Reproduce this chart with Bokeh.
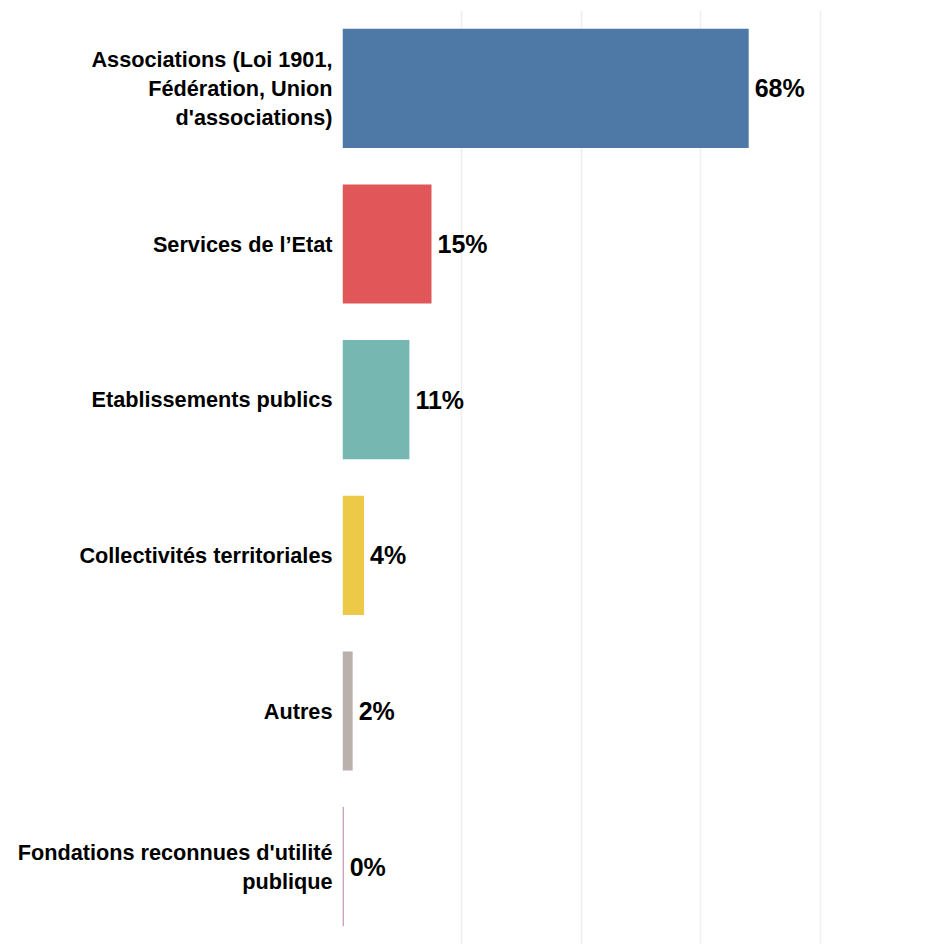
from bokeh.plotting import figure
from bokeh.models import ColumnDataSource, FactorRange, Range1d, FixedTicker
from bokeh.core.properties import value
from bokeh.embed import file_html
from bokeh.resources import INLINE

categories = [
    "Associations (Loi 1901,\nFédération, Union\nd'associations)",
    "Services de l’Etat",
    "Etablissements publics",
    "Collectivités territoriales",
    "Autres",
    "Fondations reconnues d'utilité\npublique",
]
shares = [68.0, 14.9, 11.2, 3.6, 1.7, 0.2]
share_labels = ["68%", "15%", "11%", "4%", "2%", "0%"]
colors = ["#4e79a7", "#e15759", "#76b7b2", "#edc948", "#bab0ac", "#b07aa1"]
grid_ticks = [0, 20, 40, 60, 80]

src = ColumnDataSource(dict(cat=categories, val=shares, label=share_labels, color=colors))

p = figure(
    y_range=FactorRange(factors=list(reversed(categories))),
    x_range=Range1d(0, 97.6),
    width=925, height=944,
    output_backend="svg", toolbar_location=None,
    min_border_left=342, min_border_right=0, min_border_top=10, min_border_bottom=0,
)

p.hbar(y="cat", left=0, right="val", height=0.765, fill_color="color", line_color=None, source=src)
p.text(x="val", y="cat", text="label", x_offset=6, text_align="left", text_baseline="middle",
       text_font=value("Liberation Sans"), text_font_style="bold", text_font_size="25px",
       text_color="#000000", source=src)

p.xaxis.visible = False
p.xaxis.ticker = FixedTicker(ticks=grid_ticks)
p.xgrid.ticker = FixedTicker(ticks=grid_ticks)
p.xgrid.grid_line_color = "#eeeeee"
p.xgrid.grid_line_width = 1.5
p.ygrid.visible = False
p.outline_line_color = None

ax = p.yaxis[0]
ax.axis_line_color = None
ax.major_tick_line_color = None
ax.minor_tick_line_color = None
ax.major_tick_out = 0
ax.major_label_standoff = 10
ax.major_label_text_font = "Liberation Sans"
ax.major_label_text_font_style = "bold"
ax.major_label_text_font_size = "21.7px"
ax.major_label_text_color = "#000000"
ax.major_label_text_line_height = 1.16

open("out.html", "w").write(file_html(p, INLINE))
